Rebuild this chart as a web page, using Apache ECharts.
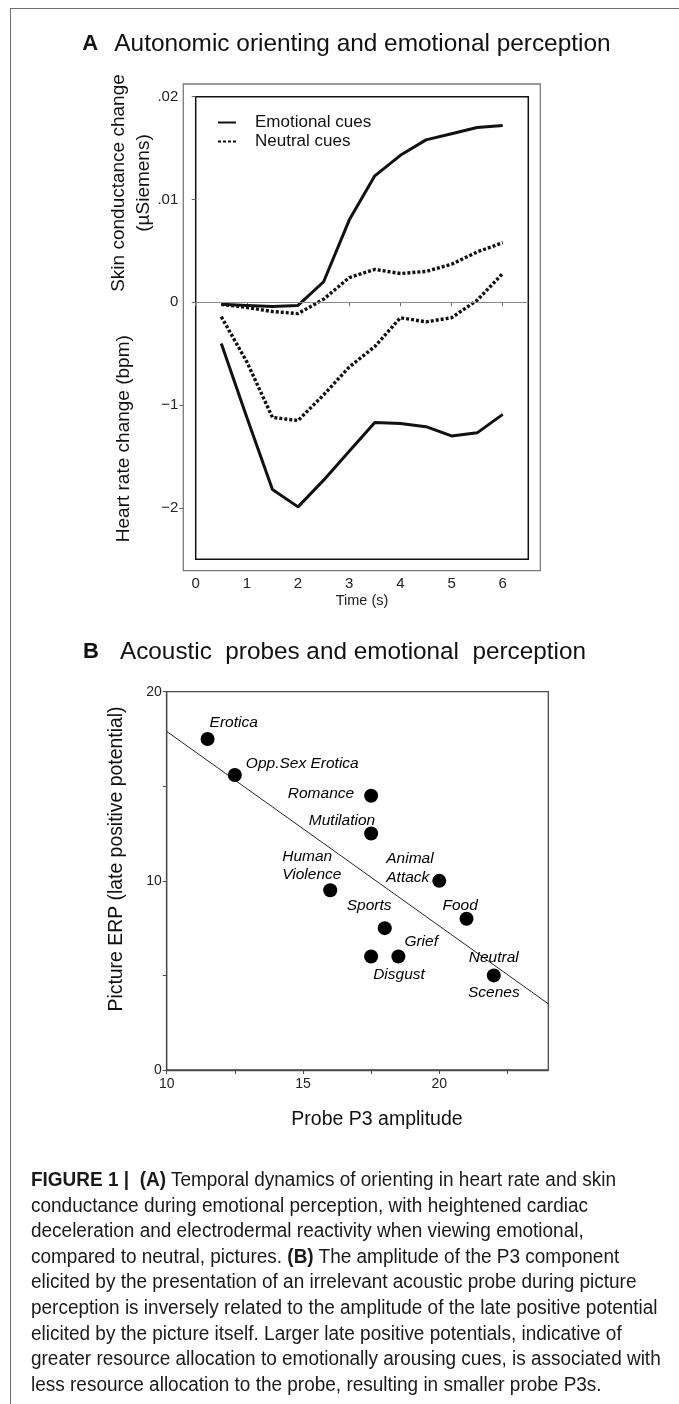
<!DOCTYPE html>
<html><head><meta charset="utf-8">
<script src="https://cdn.jsdelivr.net/npm/echarts@6/dist/echarts.min.js"></script>
<style>
html,body{margin:0;padding:0;background:#fff;}
#wrap{position:relative;width:679px;height:1404px;overflow:hidden;background:#fff;}
#frame{position:absolute;left:10px;top:8px;width:700px;height:1500px;border-left:1.5px solid #6e6e6e;border-top:1.5px solid #6e6e6e;}
#chart{position:absolute;left:0;top:0;width:679px;height:1404px;}
#caption{position:absolute;left:31px;top:1167px;font-family:"Liberation Sans",Arial,sans-serif;font-size:20px;line-height:25.6px;color:#1a1a1a;white-space:nowrap;transform-origin:0 0;}
</style></head>
<body><div id="wrap"><div id="frame"></div><div id="chart"></div>
<div id="caption"><b>FIGURE 1 |</b>&nbsp; <b>(A)</b> Temporal dynamics of orienting in heart rate and skin<br>conductance during emotional perception, with heightened cardiac<br>deceleration and electrodermal reactivity when viewing emotional,<br>compared to neutral, pictures. <b>(B)</b> The amplitude of the P3 component<br>elicited by the presentation of an irrelevant acoustic probe during picture<br>perception is inversely related to the amplitude of the late positive potential<br>elicited by the picture itself. Larger late positive potentials, indicative of<br>greater resource allocation to emotionally arousing cues, is associated with<br>less resource allocation to the probe, resulting in smaller probe P3s.</div>
</div>
<script>
// ---------- Panel A data ----------
const timeSec = [0.5, 1, 1.5, 2, 2.5, 3, 3.5, 4, 4.5, 5, 5.5, 6];
const scEmotional = [-0.0002, -0.0003, -0.0004, -0.0003, 0.0020, 0.0080, 0.0123, 0.0143, 0.0158, 0.0164, 0.0170, 0.0172];
const scNeutral = [-0.0002, -0.0005, -0.0009, -0.0011, 0.0003, 0.0024, 0.0032, 0.0028, 0.0030, 0.0037, 0.0049, 0.0058];
const hrEmotional = [-0.40, -1.12, -1.82, -1.99, -1.73, -1.45, -1.17, -1.18, -1.21, -1.30, -1.27, -1.09];
const hrNeutral = [-0.14, -0.58, -1.12, -1.15, -0.90, -0.63, -0.43, -0.15, -0.19, -0.15, 0.02, 0.28];
const timeTicks = [0, 1, 2, 3, 4, 5, 6];
const scTicks = [0, 0.01, 0.02];
const scTickLabels = ['0', '.01', '.02'];
const hrTicks = [-2, -1];
const hrTickLabels = ['\u22122', '\u22121'];
const legendNames = ['Emotional cues', 'Neutral cues'];

// ---------- Panel B data ----------
const pictureCategories = ['Erotica', 'Opp.Sex Erotica', 'Romance', 'Mutilation', 'Human\nViolence', 'Animal\nAttack', 'Sports', 'Food', 'Disgust', 'Grief', 'Neutral\n\nScenes'];
const probeP3 = [11.5, 12.5, 17.5, 17.5, 16, 20, 18, 21, 17.5, 18.5, 22];
const pictureERP = [17.5, 15.6, 14.5, 12.5, 9.5, 10, 7.5, 8, 6, 6, 5];
const fitProbe = [10, 24];
const fitERP = [17.9, 3.5];
const probeTicks = [10, 12.5, 15, 17.5, 20, 22.5];
const probeLabels = [10, 15, 20];
const erpTicks = [0, 5, 10, 15, 20];
const erpLabels = [0, 10, 20];

// ---------- caption width fit (layout only) ----------
(function () {
  const cap = document.getElementById('caption');
  const w = cap.scrollWidth;
  if (w > 0) cap.style.transform = 'scaleX(' + (630 / w) + ')';
})();

// ---------- layout / style (not data) ----------
const FF = '"Liberation Sans", Arial, sans-serif';
const labelPlace = {
  'Erotica': {align: 'left', offset: [2, -16]},
  'Opp.Sex Erotica': {align: 'left', offset: [11, -11]},
  'Romance': {align: 'right', offset: [-17, -2]},
  'Mutilation': {align: 'right', offset: [4, -13]},
  'Human\nViolence': {align: 'left', offset: [-48, -25], lineHeight: 18},
  'Animal\nAttack': {align: 'left', offset: [-53, -12.5], lineHeight: 18.4},
  'Sports': {align: 'left', offset: [-38, -22]},
  'Food': {align: 'left', offset: [-24, -13]},
  'Disgust': {align: 'left', offset: [2, 18]},
  'Grief': {align: 'left', offset: [6, -15]},
  'Neutral\n\nScenes': {align: 'center', offset: [0, 0], lineHeight: 17.7}
};

function lookup(ticks, labels) {
  return function (v) {
    for (let i = 0; i < ticks.length; i++) if (Math.abs(ticks[i] - v) < 1e-9) return String(labels[i]);
    return '';
  };
}
const solid = {color: '#111', width: 3};
const dotted = {color: '#111', width: 3.4, type: [3, 2]};

const chart = echarts.init(document.getElementById('chart'), null, {renderer: 'canvas'});
chart.setOption({
  animation: false,
  backgroundColor: 'transparent',
  grid: [
    {left: 195.7, top: 96.7, width: 332.6, height: 462.6, show: true, borderColor: '#111', borderWidth: 1.5, backgroundColor: 'transparent', containLabel: false},
    {left: 183.3, top: 84, width: 357, height: 486.7, show: true, borderColor: '#7a7a7a', borderWidth: 1.3, backgroundColor: 'transparent'},
    {left: 166.7, top: 691.7, width: 381.6, height: 378.3, show: true, borderColor: '#4a4a4a', borderWidth: 1.3, backgroundColor: 'transparent'}
  ],
  legend: {
    data: legendNames, orient: 'vertical', left: 212, top: 109, itemWidth: 18, itemHeight: 12, itemGap: 2,
    selectedMode: false,
    itemStyle: {opacity: 0},
    textStyle: {fontSize: 17, fontFamily: FF, color: '#111', padding: [0, 0, 0, 14]}
  },
  xAxis: [
    {gridIndex: 0, type: 'value', min: 0, max: 6.5, position: 'bottom', offset: 11.4,
     axisLine: {show: false}, splitLine: {show: false},
     axisTick: {show: true, length: 4, customValues: timeTicks, lineStyle: {color: '#666', width: 1}},
     axisLabel: {customValues: timeTicks, margin: 6, fontSize: 15, color: '#222', fontFamily: FF},
     name: 'Time (s)', nameLocation: 'middle', nameGap: 23,
     nameTextStyle: {fontSize: 14.5, color: '#222', fontFamily: FF}},
    {gridIndex: 1, type: 'value', show: false, min: 0, max: 1},
    {gridIndex: 2, type: 'value', min: 10, max: 24,
     axisLine: {show: true, lineStyle: {color: '#4a4a4a', width: 1.3}}, splitLine: {show: false},
     axisTick: {show: true, length: 4, customValues: probeTicks, lineStyle: {color: '#4a4a4a', width: 1}},
     axisLabel: {customValues: probeLabels, margin: 7, fontSize: 14, color: '#222', fontFamily: FF}}
  ],
  yAxis: [
    {gridIndex: 0, type: 'value', min: -0.025, max: 0.02, position: 'left', offset: 12.4,
     axisLine: {show: false}, splitLine: {show: false},
     axisTick: {show: true, length: 4, customValues: scTicks, lineStyle: {color: '#666', width: 1}},
     axisLabel: {customValues: scTicks, formatter: lookup(scTicks, scTickLabels), margin: 5, fontSize: 15, color: '#222', fontFamily: FF}},
    {gridIndex: 0, type: 'value', min: -2.5, max: 2, position: 'left', offset: 12.4,
     axisLine: {show: false}, splitLine: {show: false},
     axisTick: {show: true, length: 4, customValues: hrTicks, lineStyle: {color: '#666', width: 1}},
     axisLabel: {customValues: hrTicks, formatter: lookup(hrTicks, hrTickLabels), margin: 5, fontSize: 15, color: '#222', fontFamily: FF}},
    {gridIndex: 1, type: 'value', show: false, min: 0, max: 1},
    {gridIndex: 2, type: 'value', min: 0, max: 20,
     axisLine: {show: true, lineStyle: {color: '#4a4a4a', width: 1.3}}, splitLine: {show: false},
     axisTick: {show: true, length: 4, customValues: erpTicks, lineStyle: {color: '#4a4a4a', width: 1}},
     axisLabel: {customValues: erpLabels, margin: 5, fontSize: 14, color: '#222', fontFamily: FF}}
  ],
  series: [
    {name: legendNames[0], type: 'line', xAxisIndex: 0, yAxisIndex: 0, symbol: 'none', z: 3,
     data: timeSec.map((t, i) => [t, scEmotional[i]]), itemStyle: {color: '#111'}, lineStyle: solid,
     markLine: {silent: true, symbol: 'none', label: {show: false}, lineStyle: {color: '#8a8a8a', width: 1.2, type: 'solid'}, data: [{yAxis: 0}]}},
    {name: legendNames[1], type: 'line', xAxisIndex: 0, yAxisIndex: 0, symbol: 'none', z: 3,
     data: timeSec.map((t, i) => [t, scNeutral[i]]), itemStyle: {color: '#111'}, lineStyle: dotted},
    {name: legendNames[0], type: 'line', xAxisIndex: 0, yAxisIndex: 1, symbol: 'none', z: 3,
     data: timeSec.map((t, i) => [t, hrEmotional[i]]), itemStyle: {color: '#111'}, lineStyle: solid},
    {name: legendNames[1], type: 'line', xAxisIndex: 0, yAxisIndex: 1, symbol: 'none', z: 3,
     data: timeSec.map((t, i) => [t, hrNeutral[i]]), itemStyle: {color: '#111'}, lineStyle: dotted},
    {type: 'line', xAxisIndex: 2, yAxisIndex: 3, symbol: 'none', silent: true, z: 2,
     data: fitProbe.map((x, i) => [x, fitERP[i]]), itemStyle: {color: '#222'}, lineStyle: {color: '#222', width: 1}},
    {type: 'scatter', xAxisIndex: 2, yAxisIndex: 3, symbol: 'circle', symbolSize: 14, z: 4,
     itemStyle: {color: '#000', opacity: 1},
     data: probeP3.map((x, i) => {
       const p = labelPlace[pictureCategories[i]] || {align: 'left', offset: [8, -12]};
       return {name: pictureCategories[i], value: [x, pictureERP[i]],
         label: {show: true, position: 'inside', formatter: '{b}', align: p.align, verticalAlign: 'middle',
           offset: p.offset, lineHeight: p.lineHeight || 18, fontSize: 15.5, fontStyle: 'italic',
           fontFamily: FF, color: '#000', opacity: 1}};
     })}
  ],
  graphic: [
    {type: 'text', x: 82.3, y: 44, style: {text: 'A', fontSize: 22, fontWeight: 'bold', fontFamily: FF, fill: '#111', align: 'left', verticalAlign: 'middle'}},
    {type: 'text', x: 114.3, y: 44, style: {text: 'Autonomic orienting and emotional perception', fontSize: 24.4, fontFamily: FF, fill: '#111', align: 'left', verticalAlign: 'middle'}},
    {type: 'text', x: 83, y: 652, style: {text: 'B', fontSize: 22, fontWeight: 'bold', fontFamily: FF, fill: '#111', align: 'left', verticalAlign: 'middle'}},
    {type: 'text', x: 120, y: 652, style: {text: 'Acoustic  probes and emotional  perception', fontSize: 24.3, fontFamily: FF, fill: '#111', align: 'left', verticalAlign: 'middle'}},
    {type: 'text', x: 131.5, y: 183, rotation: Math.PI / 2, style: {text: 'Skin conductance change\n(\u00b5Siemens)', fontSize: 19, lineHeight: 25, fontFamily: FF, fill: '#111', align: 'center', verticalAlign: 'middle'}},
    {type: 'text', x: 124, y: 438.7, rotation: Math.PI / 2, style: {text: 'Heart rate change (bpm)', fontSize: 19, fontFamily: FF, fill: '#111', align: 'center', verticalAlign: 'middle'}},
    {type: 'text', x: 117, y: 859, rotation: Math.PI / 2, style: {text: 'Picture ERP (late positive potential)', fontSize: 19.4, fontFamily: FF, fill: '#111', align: 'center', verticalAlign: 'middle'}},
    {type: 'text', x: 377, y: 1119.5, style: {text: 'Probe P3 amplitude', fontSize: 19.5, fontFamily: FF, fill: '#111', align: 'center', verticalAlign: 'middle'}}
  ]
});
</script>
</body></html>
